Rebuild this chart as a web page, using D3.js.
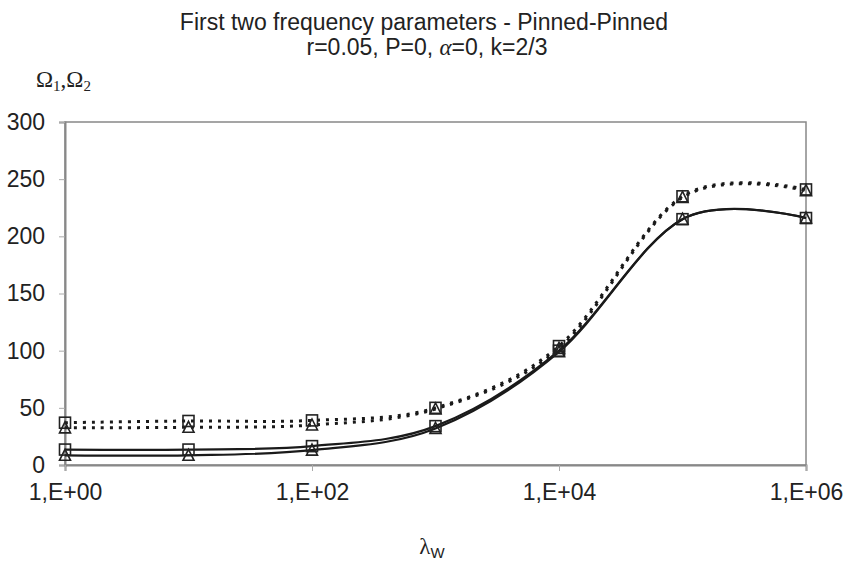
<!DOCTYPE html>
<html>
<head>
<meta charset="utf-8">
<script src="https://cdn.jsdelivr.net/npm/d3@7"></script>
<style>
  body { margin: 0; background: #fff; }
  svg { display: block; }
</style>
</head>
<body>
<svg id="chart" width="846" height="564"></svg>
<script>
// lambda_w values (log axis)
const lambdaW = [1, 10, 100, 1000, 10000, 100000, 1000000];
// Omega_1 (solid lines)
const omega1Square   = [13.5, 13.5, 16.5, 34, 100, 215, 216];
const omega1Triangle = [8.5, 8.5, 13, 32, 99, 215, 216];
// Omega_2 (dotted lines)
const omega2Square   = [37, 38.5, 39, 50, 104, 235, 241];
const omega2Triangle = [32.5, 33, 35, 49, 102, 234, 240];
const yTicks = [0, 50, 100, 150, 200, 250, 300];
const xTicks = [1, 100, 10000, 1000000];
const xTickLabels = ["1,E+00", "1,E+02", "1,E+04", "1,E+06"];

const series = [
    { values: omega2Square, marker: "square", dash: "3,6" },
    { values: omega2Triangle, marker: "triangle", dash: "3,6" },
    { values: omega1Square, marker: "square", dash: null },
    { values: omega1Triangle, marker: "triangle", dash: null }
];

const svg = d3.select("#chart");
const plotLeft = 65, plotRight = 806, plotTop = 122, plotBottom = 465;
const sans = "Liberation Sans, Arial, sans-serif";
const serif = "Liberation Serif, Times New Roman, serif";

const x = d3.scaleLog()
    .domain([1, 1000000])
    .range([plotLeft, plotRight]);
const y = d3.scaleLinear()
    .domain([0, 300])
    .range([plotBottom, plotTop]);

// titles
svg.append("text")
    .attr("x", 424).attr("y", 30)
    .attr("text-anchor", "middle")
    .style("font-family", sans)
    .style("font-size", "23px")
    .style("fill", "#222")
    .text("First two frequency parameters - Pinned-Pinned");
const sub = svg.append("text")
    .attr("x", 427).attr("y", 55)
    .attr("text-anchor", "middle")
    .style("font-family", sans)
    .style("font-size", "23px")
    .style("fill", "#222");
sub.append("tspan").text("r=0.05, P=0, ");
sub.append("tspan").style("font-family", serif).style("font-style", "italic").text("\u03b1");
sub.append("tspan").text("=0, k=2/3");

// y axis title
const yt = svg.append("text")
    .attr("x", 36).attr("y", 87)
    .style("font-family", serif)
    .style("font-size", "23px")
    .style("fill", "#222");
yt.append("tspan").text("\u03a9");
yt.append("tspan").attr("dy", 4).style("font-size", "15px").text("1");
yt.append("tspan").attr("dy", -4).text(",\u03a9");
yt.append("tspan").attr("dy", 4).style("font-size", "15px").text("2");

// x axis title
const xt = svg.append("text")
    .attr("x", 432).attr("y", 554)
    .attr("text-anchor", "middle")
    .style("font-family", serif)
    .style("font-size", "23px")
    .style("fill", "#222");
xt.append("tspan").text("\u03bb");
xt.append("tspan").attr("dy", 4).style("font-family", sans).style("font-size", "15px").text("W");

// plot frame
svg.append("rect")
    .attr("x", plotLeft).attr("y", plotTop)
    .attr("width", plotRight - plotLeft).attr("height", plotBottom - plotTop)
    .attr("fill", "none")
    .attr("stroke", "#888")
    .attr("stroke-width", 1.5);

// axes
const yAxis = svg.append("g")
    .attr("transform", `translate(${plotLeft},0)`)
    .call(d3.axisLeft(y).tickValues(yTicks).tickSize(6).tickPadding(14));
const xAxis = svg.append("g")
    .attr("transform", `translate(0,${plotBottom})`)
    .call(d3.axisBottom(x).tickValues(xTicks).tickSize(6).tickPadding(13)
        .tickFormat((d, i) => xTickLabels[i]));
[yAxis, xAxis].forEach(g => {
    g.select(".domain").attr("stroke", "#888").attr("stroke-width", 2);
    g.selectAll(".tick line").attr("stroke", "#aaa");
    g.selectAll(".tick text")
        .style("font-family", sans)
        .style("font-size", "23px")
        .style("fill", "#222");
});

// lines
const line = d3.line()
    .x((d, i) => x(lambdaW[i]))
    .y(d => y(d))
    .curve(d3.curveCardinal.tension(0));

series.forEach(s => {
    svg.append("path")
        .datum(s.values)
        .attr("d", line)
        .attr("fill", "none")
        .attr("stroke", "#1a1a1a")
        .attr("stroke-width", s.dash ? 3 : 2.2)
        .attr("stroke-dasharray", s.dash);
});

// markers
series.forEach(s => {
    const g = svg.append("g");
    s.values.forEach((v, i) => {
        const cx = x(lambdaW[i]), cy = y(v);
        if (s.marker === "square") {
            g.append("rect")
                .attr("x", cx - 5.5).attr("y", cy - 5.5)
                .attr("width", 11).attr("height", 11)
                .attr("fill", "none")
                .attr("stroke", "#222")
                .attr("stroke-width", 1.6);
        } else {
            g.append("path")
                .attr("d", `M${cx},${cy - 6}L${cx + 5.5},${cy + 5}L${cx - 5.5},${cy + 5}Z`)
                .attr("fill", "none")
                .attr("stroke", "#222")
                .attr("stroke-width", 1.6);
        }
    });
});
</script>
</body>
</html>
